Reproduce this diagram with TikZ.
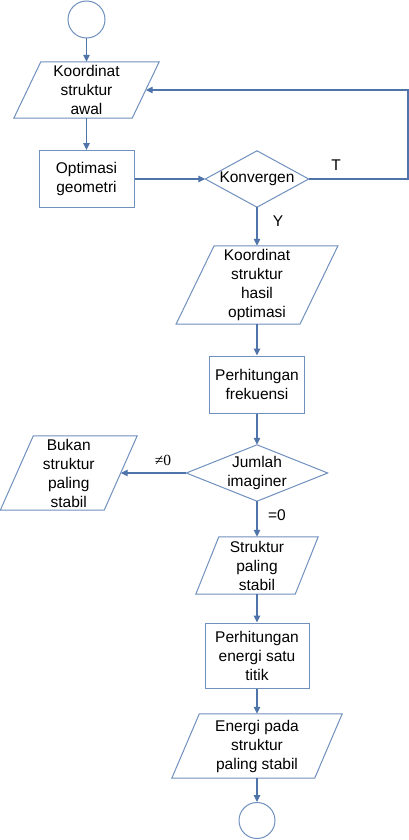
\documentclass[tikz,border=0pt]{standalone}
\usepackage{fontspec}
\setmainfont{Liberation Sans}
\newfontfamily\serifface{Liberation Serif}
\usetikzlibrary{arrows.meta,calc}
\definecolor{shapeblue}{RGB}{112,144,190}
\definecolor{linkblue}{RGB}{79,116,170}
\newcommand\mainfs{\fontsize{15.5}{19}\selectfont}
\tikzset{
  shapeline/.style={draw=shapeblue, line width=1pt, line join=miter},
  boxnode/.style={draw=shapeblue, line width=1pt, inner sep=0pt, align=center, font=\mainfs},
  holder/.style={inner sep=0pt, align=center, font=\mainfs},
  termnode/.style={circle, draw=shapeblue, line width=1pt, inner sep=0pt},
  link/.style={draw=linkblue, line width=1.2pt, -{Triangle[length=7pt,width=6.5pt]}},
  lbl/.style={inner sep=0pt, font=\mainfs}
}
\newcommand\paraframe[2]{\draw[shapeline] ($(#1.north west)+(#2pt,0pt)$) -- ($(#1.north east)+(#2pt,0pt)$) -- ($(#1.south east)-(#2pt,0pt)$) -- ($(#1.south west)-(#2pt,0pt)$) -- cycle;}
\newcommand\diaframe[1]{\draw[shapeline] (#1.north) -- (#1.east) -- (#1.south) -- (#1.west) -- cycle;}
\begin{document}
\begin{tikzpicture}[x=1pt,y=-1pt]
\useasboundingbox[fill=white] (0,0) rectangle (409,840);
% nodes
\node[termnode, minimum size=37pt] (start) at (86.5,19.5) {};
\node[holder, minimum width=118pt, minimum height=56pt] (p1) at (86.5,90) {Koordinat\\struktur\\awal};
\paraframe{p1}{13.5}
\node[boxnode, minimum width=95pt, minimum height=57pt] (b1) at (86.5,179) {Optimasi\\geometri};
\node[holder, minimum width=103pt, minimum height=56pt] (d1) at (257,179) {Konvergen};
\diaframe{d1}
\node[holder, minimum width=123.5pt, minimum height=78pt] (p2) at (257,285) {Koordinat\\struktur\\hasil\\optimasi};
\paraframe{p2}{19}
\node[boxnode, minimum width=95pt, minimum height=57pt] (b2) at (257,384.5) {Perhitungan\\frekuensi};
\node[holder, minimum width=141pt, minimum height=56pt] (d2) at (257,473) {Jumlah\\imaginer};
\diaframe{d2}
\node[holder, minimum width=103.5pt, minimum height=74pt] (bukan) at (68.75,473) {Bukan\\struktur\\paling\\stabil};
\paraframe{bukan}{16.5}
\node[holder, minimum width=99pt, minimum height=57pt] (p3) at (257,565.5) {Struktur\\paling\\stabil};
\paraframe{p3}{11.5}
\node[boxnode, minimum width=104pt, minimum height=65pt] (b3) at (257,655.5) {Perhitungan\\energi satu\\titik};
\node[holder, minimum width=142.5pt, minimum height=64pt] (p4) at (257,746) {Energi pada\\struktur\\paling stabil};
\paraframe{p4}{13.75}
\node[termnode, minimum size=36pt] (stop) at (257,820.5) {};
\coordinate (loopc) at (408,90);
% labels
\node[lbl] (lt) at (336,165) {T};
\node[lbl] (ly) at (278,221) {Y};
\node[lbl, font=\serifface\fontsize{15.5}{19}\selectfont] (lne) at (163,460) {≠0};
\node[lbl] (leq) at (277,515) {=0};
% connectors
\draw[link] (start.south) -- (p1.north);
\draw[link] (p1.south) -- (b1.north);
\draw[link] (b1.east) -- (d1.west);
\draw[link] (d1.east) -| (loopc) -- (p1.east);
\draw[link] (d1.south) -- (p2.north);
\draw[link] (p2.south) -- (b2.north);
\draw[link] (b2.south) -- (d2.north);
\draw[link] (d2.west) -- (bukan.east);
\draw[link] (d2.south) -- (p3.north);
\draw[link] (p3.south) -- (b3.north);
\draw[link] (b3.south) -- (p4.north);
\draw[link] (p4.south) -- (stop.north);
\end{tikzpicture}
\end{document}
